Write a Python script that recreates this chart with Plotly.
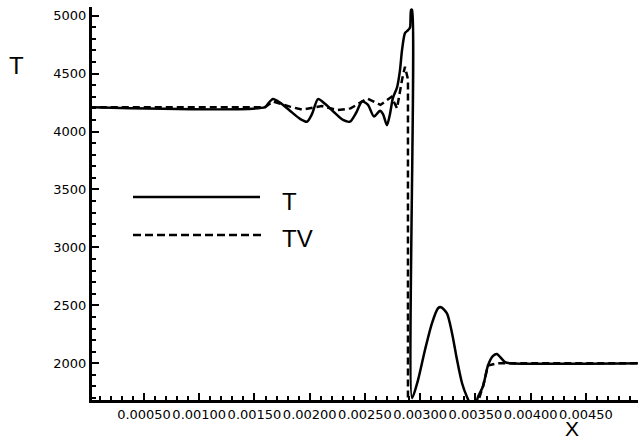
import plotly.graph_objects as go

# ---- data ----
x_T = [0.0, 0.001595, 0.001622, 0.001667, 0.001731, 0.001821, 0.001912, 0.001975,
       0.002020, 0.002075, 0.002138, 0.002228, 0.002301, 0.002364, 0.002419, 0.002473,
       0.002527, 0.002581, 0.002636, 0.002663, 0.002699, 0.002726, 0.002753, 0.002790,
       0.002817, 0.002835, 0.002862, 0.002890, 0.002908, 0.002917, 0.002926, 0.002926,
       0.002980, 0.003043, 0.003106, 0.003161, 0.003188, 0.003242, 0.003288, 0.003333,
       0.003378, 0.003423, 0.003460, 0.003496, 0.003523, 0.003568, 0.003613, 0.003659,
       0.003695, 0.003722, 0.003767, 0.003812, 0.004970]
T = [4210, 4210, 4240, 4280, 4250, 4180, 4110, 4085,
     4150, 4280, 4240, 4160, 4100, 4085, 4160, 4260,
     4230, 4130, 4180, 4150, 4055, 4150, 4290, 4380,
     4530, 4700, 4850, 4875, 4900, 5050, 5050, 1700,
     1855, 2115, 2345, 2475, 2484, 2430, 2260, 2030,
     1830, 1710, 1640, 1630, 1710, 1800, 1980, 2063,
     2080, 2055, 2010, 2000, 2000]

x_TV = [0.0, 0.001595, 0.001667, 0.001821, 0.001930, 0.002110, 0.002250, 0.002370,
        0.002520, 0.002640, 0.002740, 0.002790, 0.002836, 0.002862, 0.002889, 0.002889,
        0.003500, 0.003568, 0.003613, 0.003700, 0.004970]
TV = [4210, 4210, 4260, 4215, 4190, 4220, 4185, 4200,
      4285, 4230, 4300, 4200, 4450, 4560, 4450, 1600,
      1600, 1800, 1980, 2000, 2000]

x_ticks = [0.0005, 0.0010, 0.0015, 0.0020, 0.0025, 0.0030, 0.0035, 0.0040, 0.0045]
y_ticks = [2000, 2500, 3000, 3500, 4000, 4500, 5000]
x_range = [0.0000294, 0.004971]
y_range = [1683, 5075]

fig = go.Figure()
fig.add_trace(go.Scatter(x=x_TV, y=TV, mode="lines", name="TV",
                         line=dict(color="black", width=2.5, dash="7px,4px")))
fig.add_trace(go.Scatter(x=x_T, y=T, mode="lines", name="T",
                         line=dict(color="black", width=2.5, shape="spline", smoothing=0.7)))

fig.update_xaxes(range=x_range, tickvals=x_ticks, tickformat=".5f", tickangle=0,
                 ticks="inside", ticklen=7, tickwidth=2, tickcolor="black",
                 minor=dict(dtick=0.0001, tick0=0, ticks="inside", ticklen=4,
                            tickwidth=1.5, tickcolor="black"),
                 showline=True, linewidth=3, linecolor="black",
                 showgrid=False, zeroline=False,
                 tickfont=dict(family="DejaVu Sans", size=13, color="black"))
fig.update_yaxes(range=y_range, tickvals=y_ticks, tickformat="d",
                 ticks="inside", ticklen=7, tickwidth=2, tickcolor="black",
                 minor=dict(dtick=100, tick0=0, ticks="inside", ticklen=4,
                            tickwidth=1.5, tickcolor="black"),
                 showline=True, linewidth=3, linecolor="black",
                 showgrid=False, zeroline=False,
                 tickfont=dict(family="DejaVu Sans", size=13, color="black"))

txt = dict(family="Liberation Sans, Arial", size=24, color="black")
fig.update_layout(
    width=638, height=439,
    margin=dict(l=92, r=0, t=7, b=39),
    paper_bgcolor="white", plot_bgcolor="white",
    showlegend=False,
    shapes=[
        dict(type="line", xref="paper", yref="paper", x0=0.0751, x1=0.3077,
             y0=0.5165, y1=0.5165, line=dict(color="black", width=2.5)),
        dict(type="line", xref="paper", yref="paper", x0=0.0751, x1=0.311,
             y0=0.42, y1=0.42, line=dict(color="black", width=2.5, dash="8px,4px")),
    ],
    annotations=[
        dict(text="T", xref="paper", yref="paper", x=-0.139, y=0.85,
             showarrow=False, font=txt, xanchor="center", yanchor="middle"),
        dict(text="X", xref="paper", yref="paper", x=0.879, y=-0.0735,
             showarrow=False, font=dict(family="Liberation Sans, Arial", size=21, color="black"),
             xanchor="center", yanchor="middle"),
        dict(text="T", xref="paper", yref="paper", x=0.3626, y=0.505,
             showarrow=False, font=txt, xanchor="center", yanchor="middle"),
        dict(text="TV", xref="paper", yref="paper", x=0.377, y=0.41,
             showarrow=False, font=txt, xanchor="center", yanchor="middle"),
    ],
)

fig.write_html("out.html")
